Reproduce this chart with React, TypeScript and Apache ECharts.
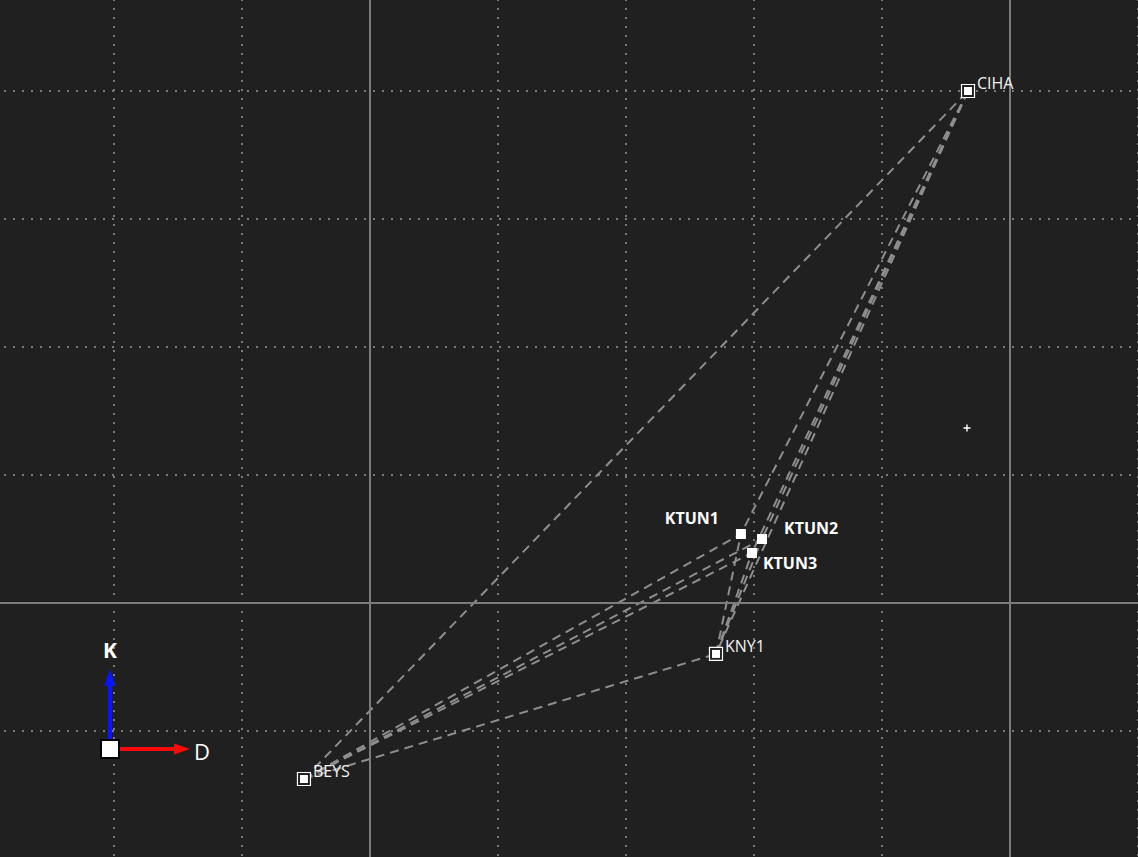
import React, { useEffect, useRef } from "react";
import * as echarts from "echarts";

// Fixed stations (double-square markers)
const stationNames = ["CIHA", "BEYS", "KNY1"];
const stationX = [4.672, -0.516, 2.703];
const stationY = [4.0, -1.375, -0.398];
const stationLabelOffsets = [[0, -8], [0, -8], [0, -8]];

// New points (filled squares)
const pointNames = ["KTUN1", "KTUN2", "KTUN3"];
const pointX = [2.898, 3.0625, 2.984];
const pointY = [0.539, 0.5, 0.391];

// Centroid marker
const centerX = [4.664];
const centerY = [1.367];

// Observed baselines
const edges: [string, string][] = [
  ["BEYS", "CIHA"],
  ["BEYS", "KNY1"],
  ["BEYS", "KTUN1"],
  ["BEYS", "KTUN2"],
  ["BEYS", "KTUN3"],
  ["CIHA", "KNY1"],
  ["CIHA", "KTUN1"],
  ["CIHA", "KTUN2"],
  ["CIHA", "KTUN3"],
  ["KNY1", "KTUN1"],
  ["KNY1", "KTUN2"],
  ["KNY1", "KTUN3"],
];

const majorX = [0, 5];
const majorY = [0];

function coordOf(name: string): [number, number] {
  let i = stationNames.indexOf(name);
  if (i >= 0) return [stationX[i], stationY[i]];
  i = pointNames.indexOf(name);
  return [pointX[i], pointY[i]];
}

const BG = "#202020";
// chart canvas is shifted so that the grid extends past the visible frame
const SHIFT_X = 14;
const SHIFT_Y = 37;

export default function App() {
  const ref = useRef<HTMLDivElement>(null);
  useEffect(() => {
    document.body.style.margin = "0";
    document.body.style.background = BG;
    const chart = echarts.init(ref.current!, undefined, { renderer: "svg" });
    const font = "'Segoe UI', 'Open Sans', 'Noto Sans', sans-serif";
    const dotted = { color: "#7a7a7a", width: 2, type: [2, 7] as number[] };
    const gx = (x: number) => x + SHIFT_X;
    const gy = (y: number) => y + SHIFT_Y;
    chart.setOption({
      animation: false,
      backgroundColor: BG,
      grid: { left: 0, right: 0, top: 0, bottom: 0, containLabel: false },
      xAxis: {
        type: "value",
        min: -3,
        max: 6,
        interval: 1,
        axisLine: { show: false },
        axisTick: { show: false },
        axisLabel: { show: false },
        splitLine: { show: true, lineStyle: dotted },
      },
      yAxis: {
        type: "value",
        min: -2,
        max: 5,
        interval: 1,
        axisLine: { show: false },
        axisTick: { show: false },
        axisLabel: { show: false },
        splitLine: { show: true, lineStyle: dotted },
      },
      series: [
        {
          type: "lines",
          coordinateSystem: "cartesian2d",
          z: 2,
          silent: true,
          lineStyle: { color: "#8e8e8e", width: 2, type: [9, 6], opacity: 1 },
          data: edges.map(([a, b]) => ({ coords: [coordOf(a), coordOf(b)] })),
          markLine: {
            silent: true,
            symbol: "none",
            label: { show: false },
            lineStyle: { color: "#7c7c7c", width: 2, type: "solid" },
            data: [
              ...majorX.map((v) => ({ xAxis: v })),
              ...majorY.map((v) => ({ yAxis: v })),
            ],
          },
        },
        {
          type: "scatter",
          z: 4,
          symbol: "rect",
          symbolSize: 13,
          itemStyle: { color: BG, borderColor: "#ffffff", borderWidth: 1.2, opacity: 1 },
          data: stationNames.map((n, i) => [stationX[i], stationY[i]]),
        },
        {
          type: "scatter",
          z: 5,
          symbol: "rect",
          symbolSize: 8,
          itemStyle: { color: "#ffffff", opacity: 1 },
          data: stationNames.map((n, i) => ({
            name: n,
            value: [stationX[i], stationY[i]],
            label: {
              show: true,
              position: "right",
              distance: 5,
              offset: stationLabelOffsets[i],
              formatter: n,
              color: "#f2f2f2",
              fontSize: 16,
              fontFamily: font,
            },
          })),
        },
        {
          type: "scatter",
          z: 5,
          symbol: "rect",
          symbolSize: 10,
          itemStyle: { color: "#ffffff", opacity: 1 },
          label: {
            show: true,
            color: "#ffffff",
            fontSize: 16,
            fontWeight: "bold",
            fontFamily: font,
            formatter: (p: any) => p.name,
          },
          data: [
            { name: pointNames[0], value: [pointX[0], pointY[0]], label: { position: "left", distance: 5, offset: [-12, -16] } },
            { name: pointNames[1], value: [pointX[1], pointY[1]], label: { position: "right", distance: 5, offset: [12, -11] } },
            { name: pointNames[2], value: [pointX[2], pointY[2]], label: { position: "right", distance: 5, offset: [1, 10] } },
          ],
        },
        {
          type: "scatter",
          z: 5,
          symbol: "path://M2,0H3V2H5V3H3V5H2V3H0V2H2Z",
          symbolSize: 7,
          itemStyle: { color: "#ffffff", opacity: 1 },
          data: centerX.map((x, i) => [x, centerY[i]]),
        },
      ],
      graphic: [
        // North arrow (blue)
        { type: "line", z: 10, shape: { x1: gx(110), y1: gy(742), x2: gx(110), y2: gy(684) }, style: { stroke: "#0a14ff", lineWidth: 4 } },
        { type: "polygon", z: 10, shape: { points: [[gx(104.5), gy(686)], [gx(110), gy(669)], [gx(115.5), gy(686)]] }, style: { fill: "#0a14ff" } },
        // East arrow (red)
        { type: "line", z: 10, shape: { x1: gx(118), y1: gy(749), x2: gx(176), y2: gy(749) }, style: { stroke: "#ff0a0a", lineWidth: 4 } },
        { type: "polygon", z: 10, shape: { points: [[gx(174), gy(743.5)], [gx(190), gy(749)], [gx(174), gy(754.5)]] }, style: { fill: "#ff0a0a" } },
        // Origin box
        { type: "rect", z: 11, shape: { x: gx(101), y: gy(740), width: 18, height: 18 }, style: { fill: "#ffffff", stroke: "#000000", lineWidth: 2 } },
        { type: "text", z: 11, x: gx(110), y: gy(650), style: { text: "K", fill: "#ffffff", font: "bold 21px 'Segoe UI', 'Open Sans', sans-serif", align: "center", verticalAlign: "middle" } },
        { type: "text", z: 11, x: gx(194), y: gy(751), style: { text: "D", fill: "#ffffff", font: "22px 'Segoe UI', 'Open Sans', sans-serif", align: "left", verticalAlign: "middle" } },
      ],
    });
    return () => chart.dispose();
  }, []);
  return (
    <div style={{ width: 1138, height: 857, overflow: "hidden", position: "relative", background: BG }}>
      <div
        ref={ref}
        style={{ position: "absolute", left: -SHIFT_X, top: -SHIFT_Y, width: 1152, height: 896 }}
      />
    </div>
  );
}
